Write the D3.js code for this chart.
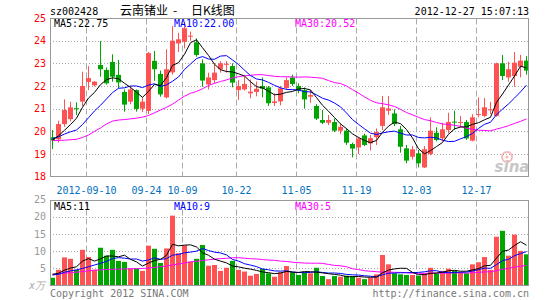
<!DOCTYPE html>
<html>
<head>
<meta charset="utf-8">
<title>云南锗业 日K线图</title>
<style>
  body { margin: 0; background: #fff; }
  svg text { font-family: "DejaVu Sans Mono", monospace; font-size: 10px; }
  .cjk { font-family: "Noto Sans CJK SC", sans-serif; font-size: 12px; }
</style>
</head>
<body>
<svg id="chart" width="545" height="300"></svg>
<script src="https://d3js.org/d3.v7.min.js"></script>
<script>
// daily candles, 2012-08-31 .. 2012-12-27
var opens = [19.74,19.65,20.32,20.54,21.02,21.31,22.18,22.03,22.93,22.71,
  23.06,22.49,21.74,21.31,21.82,21.00,20.90,23.11,22.53,21.50,
  22.60,23.88,23.95,24.19,23.93,23.00,22.07,22.26,22.74,22.96,
  22.88,21.82,21.85,21.68,21.74,22.00,21.94,21.25,21.32,21.91,
  22.37,22.00,21.82,21.53,21.12,20.50,20.38,20.41,20.03,20.03,
  19.44,19.29,19.82,19.47,19.74,20.24,20.91,20.79,20.09,19.25,
  18.88,19.03,18.41,19.00,19.94,19.69,20.06,20.43,20.40,20.41,
  19.59,20.74,20.68,20.95,20.68,23.00,22.38,22.44,22.85,23.12];
var highs = [20.06,20.47,21.41,21.31,21.28,22.63,22.88,22.22,23.98,22.82,
  23.40,23.15,21.85,22.00,21.85,21.50,23.50,23.55,22.68,23.62,
  24.64,24.35,24.80,24.40,24.10,23.18,22.59,23.00,23.10,23.10,
  23.00,22.26,22.41,22.29,22.20,22.38,22.00,21.68,22.00,22.38,
  22.50,22.12,21.94,21.82,21.20,20.94,20.72,20.56,20.35,20.13,
  19.50,19.76,19.90,19.84,20.13,21.56,21.56,20.97,20.24,19.40,
  19.35,19.18,19.35,20.62,20.18,20.38,20.82,20.91,20.68,20.50,
  20.76,21.50,21.47,21.30,23.03,23.37,23.07,23.50,23.37,23.32];
var lows = [19.22,19.50,20.20,20.44,20.72,21.12,21.82,21.98,22.41,22.06,
  22.19,21.90,20.87,21.20,20.87,20.85,20.76,22.23,21.53,21.45,
  22.50,23.50,23.66,24.00,23.29,21.97,21.85,22.12,22.59,22.59,
  21.94,21.38,21.80,21.46,21.55,21.50,21.12,21.12,21.15,21.85,
  22.00,21.68,21.00,21.26,20.50,20.32,20.28,19.97,19.88,19.40,
  18.85,19.00,19.35,19.16,19.40,20.06,20.72,20.23,19.06,18.59,
  18.76,18.41,18.38,18.95,19.56,19.56,19.91,20.06,20.18,19.62,
  19.56,20.62,20.62,20.76,20.65,22.26,22.19,21.97,22.38,22.50];
var closes = [19.60,20.32,20.94,21.06,21.00,22.00,22.35,22.19,22.74,22.12,
  22.41,22.16,21.18,21.85,20.99,21.31,23.45,22.74,21.63,22.74,
  24.00,24.06,24.55,24.22,23.37,22.24,22.38,22.59,23.00,22.98,
  22.15,22.00,22.09,21.75,21.88,21.88,21.24,21.32,21.90,22.26,
  22.09,21.79,21.41,21.60,20.56,20.38,20.50,20.03,20.20,19.50,
  19.24,19.68,19.40,19.70,19.97,21.06,21.01,20.32,19.32,18.71,
  19.21,18.59,19.21,20.03,19.62,20.09,20.41,20.41,20.41,19.69,
  20.62,20.76,21.06,20.97,23.00,22.44,22.74,23.03,23.12,22.68];

// price moving averages as drawn
var ma5 = [19.62,19.80,20.05,20.30,20.58,21.06,21.47,21.72,22.06,22.28,
  22.36,22.32,22.12,21.94,21.72,21.50,21.76,22.07,22.02,22.37,
  22.91,23.03,23.40,23.91,24.04,23.69,23.35,22.96,22.72,22.64,
  22.62,22.54,22.44,22.19,21.97,21.92,21.77,21.61,21.64,21.72,
  21.76,21.87,21.89,21.83,21.49,21.15,20.89,20.61,20.33,20.12,
  19.89,19.73,19.60,19.50,19.60,19.96,20.23,20.41,20.34,20.08,
  19.71,19.23,19.01,19.15,19.33,19.51,19.87,20.11,20.19,20.20,
  20.31,20.38,20.51,20.62,21.28,21.65,22.04,22.44,22.87,22.80];
var ma10 = [19.68,19.76,19.88,19.98,20.06,20.30,20.60,20.90,21.15,21.43,
  21.71,21.90,21.92,22.00,22.00,21.93,22.04,22.10,21.98,22.05,
  22.21,22.40,22.73,22.97,23.21,23.30,23.19,23.18,23.32,23.34,
  23.15,22.95,22.70,22.46,22.31,22.27,22.16,22.03,21.92,21.85,
  21.84,21.82,21.75,21.74,21.61,21.46,21.38,21.25,21.08,20.81,
  20.52,20.31,20.11,19.92,19.86,19.93,19.98,20.01,19.92,19.84,
  19.84,19.73,19.71,19.74,19.71,19.61,19.55,19.56,19.67,19.77,
  19.91,20.13,20.31,20.40,20.74,20.98,21.21,21.47,21.74,22.04];
var ma30 = [19.59,19.60,19.61,19.63,19.65,19.73,19.84,20.00,20.15,20.33,
  20.45,20.50,20.52,20.55,20.58,20.63,20.70,20.82,20.94,21.06,
  21.20,21.38,21.55,21.68,21.76,21.88,22.02,22.12,22.20,22.27,
  22.36,22.41,22.45,22.47,22.50,22.50,22.46,22.43,22.41,22.41,
  22.40,22.39,22.40,22.39,22.37,22.34,22.24,22.15,22.11,22.00,
  21.84,21.69,21.52,21.37,21.26,21.22,21.17,21.10,20.97,20.83,
  20.73,20.62,20.52,20.47,20.39,20.33,20.30,20.27,20.22,20.14,
  20.09,20.05,20.04,20.02,20.10,20.17,20.25,20.35,20.44,20.55];

// volume (x万) and its averages
var volumes = [2.3,4.6,8.2,7.8,4.6,10.4,8.3,4.6,11.0,8.7,
  10.4,7.2,6.9,5.0,5.0,4.3,11.6,10.7,6.6,10.8,
  20.3,9.4,11.7,7.0,7.8,11.8,5.8,6.0,4.3,5.2,
  7.2,4.6,4.1,2.9,3.4,4.9,3.6,2.6,3.9,5.7,
  3.9,3.1,3.9,3.6,5.2,2.8,1.9,2.8,2.6,2.9,
  2.8,2.3,1.9,2.3,3.3,8.9,6.2,3.6,3.3,3.1,
  3.1,2.9,3.6,5.2,3.6,4.3,4.9,4.3,3.9,3.6,
  6.2,6.8,8.3,4.6,14.2,15.9,8.7,14.8,10.1,9.1];
var vma5 = [3.3,3.6,4.5,5.1,5.50,7.12,7.86,7.14,7.78,8.60,
  8.60,8.38,8.84,7.64,6.90,5.68,6.56,7.32,7.64,8.80,
  12.00,11.56,11.76,11.84,11.24,9.54,8.82,7.68,7.14,6.62,
  5.70,5.46,5.08,4.80,4.44,3.98,3.78,3.48,3.68,4.14,
  3.94,3.84,4.10,4.04,3.94,3.72,3.48,3.26,3.06,2.60,
  2.60,2.68,2.50,2.44,2.52,3.74,4.52,4.86,5.06,5.02,
  3.86,3.20,3.20,3.58,3.68,3.92,4.32,4.46,4.20,4.20,
  4.58,4.96,5.76,5.90,8.02,9.96,10.34,11.64,12.74,11.72];
var vma10 = [3.1,3.3,3.9,4.3,4.6,5.0,5.5,6.0,6.5,7.05,
  7.86,8.12,7.99,7.71,7.75,7.14,7.47,8.08,7.64,7.85,
  8.84,9.06,9.54,9.74,10.02,10.77,10.19,9.72,9.49,8.93,
  7.62,7.14,6.38,5.97,5.53,4.84,4.62,4.28,4.24,4.29,
  3.96,3.81,3.79,3.86,4.04,3.83,3.66,3.68,3.55,3.27,
  3.16,3.08,2.88,2.75,2.56,3.17,3.60,3.68,3.75,3.77,
  3.80,3.86,4.03,4.32,4.35,3.89,3.76,3.83,3.89,3.94,
  4.25,4.64,5.11,5.05,6.11,7.27,7.65,8.70,9.32,9.87];
var vma30 = [3.3,3.4,3.6,3.8,3.9,4.1,4.3,4.5,4.6,4.7,
  4.75,4.8,4.85,4.9,4.95,5.0,5.1,5.3,5.5,5.7,
  6.0,6.3,6.6,6.9,7.1,7.3,7.5,7.7,7.85,7.94,
  8.11,8.11,7.97,7.81,7.77,7.58,7.43,7.36,7.12,7.02,
  6.81,6.67,6.57,6.52,6.53,6.48,6.16,5.89,5.76,5.50,
  4.91,4.68,4.35,4.19,4.04,3.95,3.96,3.88,3.85,3.78,
  3.64,3.58,3.57,3.64,3.65,3.63,3.67,3.73,3.73,3.66,
  3.74,3.86,4.01,4.04,4.34,4.78,5.00,5.40,5.65,5.86];

var tickIdx = [6, 16, 22, 31, 41, 51, 61, 71];
var tickLabels = ['2012-09-10','09-24','10-09','10-22','11-05','11-19','12-03','12-17'];
var priceTicks = [18, 19, 20, 21, 22, 23, 24, 25];
var volTicks = [5, 10, 15, 20, 25];

var maNames = ['MA5', 'MA10', 'MA30'];
var maLast = ['22.75', '22.00', '20.52'];
var volMaLast = ['11', '9', '5'];
var maColors = ['#000000', '#0000ff', '#ff00ff'];

var UP = '#ff5252', DOWN = '#00a600', GRID = '#aaaaaa';

var svg = d3.select('#chart');
var left = 50, right = 529;

var x = d3.scaleLinear().domain([0, 80]).range([50, 530]);
var yPrice = d3.scaleLinear().domain([18, 25]).range([176.7, 18]);
var yVol = d3.scaleLinear().domain([0, 25]).range([285.7, 199.45]);

function crisp(v) { return Math.round(v) + 0.5; }

// ---- header
svg.append('text').attr('x', 50).attr('y', 15).text('sz002428');
var title = svg.append('text').attr('class', 'cjk').attr('y', 15);
title.append('tspan').attr('x', 120).text('云南锗业');
title.append('tspan').attr('x', 173).text('-');
title.append('tspan').attr('x', 191).text('日K线图');
svg.append('text').attr('x', 529).attr('y', 15).attr('text-anchor', 'end')
  .text('2012-12-27 15:07:13');

// ---- grid: price panel
svg.append('g').selectAll('line').data([19, 20, 21, 22, 23, 24]).enter().append('line')
  .attr('x1', left).attr('x2', right)
  .attr('y1', function(d) { return crisp(yPrice(d)); })
  .attr('y2', function(d) { return crisp(yPrice(d)); })
  .style('stroke', GRID).style('stroke-dasharray', '1,2');

// ---- grid: volume panel
svg.append('g').selectAll('line').data([5, 10, 15, 20]).enter().append('line')
  .attr('x1', left).attr('x2', right)
  .attr('y1', function(d) { return crisp(yVol(d)); })
  .attr('y2', function(d) { return crisp(yVol(d)); })
  .style('stroke', GRID).style('stroke-dasharray', '1,2');

// vertical dashed date lines in both panels
[[18.5, 176.5], [200.5, 285.5]].forEach(function(span) {
  svg.append('g').selectAll('line').data(tickIdx).enter().append('line')
    .attr('x1', function(d) { return crisp(x(d)); })
    .attr('x2', function(d) { return crisp(x(d)); })
    .attr('y1', span[0]).attr('y2', span[1])
    .style('stroke', GRID).style('stroke-dasharray', '6,3');
});

// ---- sina watermark
var mark = svg.append('g').style('opacity', 0.55);
mark.append('circle').attr('cx', 507).attr('cy', 157).attr('r', 5)
  .style('fill', 'none').style('stroke', '#f08080').style('stroke-width', 2);
mark.append('circle').attr('cx', 507).attr('cy', 157).attr('r', 1.5).style('fill', '#f08080');
mark.append('text').attr('x', 512).attr('y', 172).attr('text-anchor', 'middle')
  .style('font-family', 'Verdana, "DejaVu Sans", sans-serif').style('font-size', '15px')
  .style('font-style', 'italic').style('font-weight', 'bold').style('fill', '#999')
  .text('sina');

// ---- candles
var idx = d3.range(closes.length);
var candles = svg.append('g');
candles.selectAll('line').data(idx).enter().append('line')
  .attr('x1', function(i) { return Math.round(x(i)) + 2.5; })
  .attr('x2', function(i) { return Math.round(x(i)) + 2.5; })
  .attr('y1', function(i) { return yPrice(highs[i]); })
  .attr('y2', function(i) { return yPrice(lows[i]); })
  .style('stroke', function(i) { return closes[i] >= opens[i] ? UP : DOWN; });
candles.selectAll('rect').data(idx).enter().append('rect')
  .attr('x', function(i) { return Math.round(x(i)); })
  .attr('width', 5)
  .attr('y', function(i) { return yPrice(Math.max(opens[i], closes[i])); })
  .attr('height', function(i) {
    return Math.max(1, Math.abs(yPrice(opens[i]) - yPrice(closes[i])));
  })
  .style('fill', function(i) { return closes[i] >= opens[i] ? UP : DOWN; });

// ---- volume bars
svg.append('g').selectAll('rect').data(idx).enter().append('rect')
  .attr('x', function(i) { return Math.round(x(i)); })
  .attr('width', 5)
  .attr('y', function(i) { return yVol(volumes[i]); })
  .attr('height', function(i) { return yVol(0) - yVol(volumes[i]); })
  .style('fill', function(i) { return closes[i] >= opens[i] ? UP : DOWN; });

// ---- moving average lines
var priceLine = d3.line()
  .x(function(d, i) { return Math.round(x(i)) + 2.5; })
  .y(function(d) { return yPrice(d); });
var volLine = d3.line()
  .x(function(d, i) { return Math.round(x(i)) + 2.5; })
  .y(function(d) { return yVol(d); });

[ma30, ma10, ma5].forEach(function(s, k) {
  svg.append('path').datum(s).attr('d', priceLine)
    .style('fill', 'none').style('stroke', maColors[2 - k]).style('stroke-width', 1);
});
[vma30, vma10, vma5].forEach(function(s, k) {
  svg.append('path').datum(s).attr('d', volLine)
    .style('fill', 'none').style('stroke', maColors[2 - k]).style('stroke-width', 1);
});

// ---- frames
svg.append('rect').attr('x', 50.5).attr('y', 18.5).attr('width', 478).attr('height', 158)
  .style('fill', 'none').style('stroke', '#999');
svg.append('rect').attr('x', 50.5).attr('y', 200.5).attr('width', 478).attr('height', 85)
  .style('fill', 'none').style('stroke', '#999');

// ---- axes
var priceAxis = d3.axisLeft(yPrice).tickValues(priceTicks).tickSize(0).tickPadding(4)
  .tickFormat(d3.format('d'));
svg.append('g').attr('transform', 'translate(50,0)').call(priceAxis)
  .call(function(g) { g.select('.domain').remove(); })
  .selectAll('text').style('fill', '#ff0000');

var volAxis = d3.axisLeft(yVol).tickValues(volTicks).tickSize(0).tickPadding(4)
  .tickFormat(d3.format('d'));
svg.append('g').attr('transform', 'translate(50,0)').call(volAxis)
  .call(function(g) { g.select('.domain').remove(); })
  .selectAll('text').style('fill', '#999');
svg.append('text').attr('x', 45).attr('y', 289).attr('text-anchor', 'end')
  .style('fill', '#aaa').style('font-style', 'italic').text('x万');

var dateAxis = d3.axisBottom(x).tickValues(tickIdx).tickSize(0).tickPadding(10)
  .tickFormat(function(d, i) { return tickLabels[i]; });
svg.append('g').attr('transform', 'translate(0,177)').call(dateAxis)
  .call(function(g) { g.select('.domain').remove(); })
  .selectAll('text').style('fill', '#0070c0');

// ---- legends
var legendX = [54, 174, 295];
svg.append('g').selectAll('text').data(maNames).enter().append('text')
  .attr('x', function(d, k) { return legendX[k]; }).attr('y', 27)
  .style('fill', function(d, k) { return maColors[k]; })
  .text(function(d, k) { return d + ':' + maLast[k]; });
svg.append('g').selectAll('text').data(maNames).enter().append('text')
  .attr('x', function(d, k) { return legendX[k]; }).attr('y', 210)
  .style('fill', function(d, k) { return maColors[k]; })
  .text(function(d, k) { return d + ':' + volMaLast[k]; });

// ---- footer
svg.append('text').attr('x', 50).attr('y', 297).style('fill', '#777')
  .text('Copyright 2012 SINA.COM');
svg.append('text').attr('x', 529).attr('y', 297).attr('text-anchor', 'end').style('fill', '#777')
  .text('http://finance.sina.com.cn');
</script>
</body>
</html>
